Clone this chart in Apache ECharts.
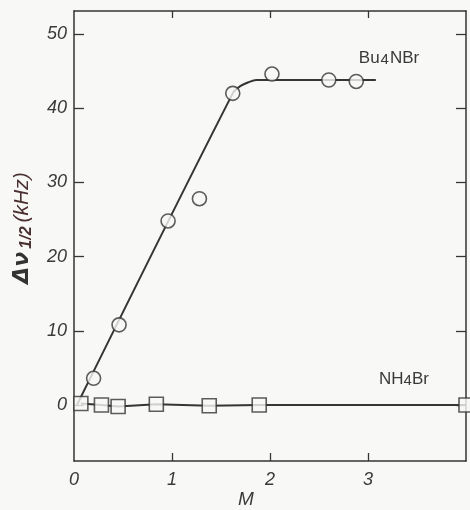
<!DOCTYPE html>
<html><head><meta charset="utf-8">
<script src="https://cdn.jsdelivr.net/npm/echarts@6/dist/echarts.min.js"></script>
<style>html,body{margin:0;padding:0;background:#f8f8f6;}#c{width:470px;height:510px;}</style>
</head><body><div id="c"></div>
<script>
// Data
const xTicks = [0, 1, 2, 3];
const xTickMarks = [1, 2, 3];
const yTicks = [0, 10, 20, 30, 40, 50];
const bu4nbrPoints = [[0.2, 3.6], [0.46, 10.8], [0.96, 24.8], [1.28, 27.8], [1.62, 42.0], [2.02, 44.6], [2.6, 43.8], [2.88, 43.6]];
const bu4nbrCurve = [[0.03, 0], [1.62, 42.0], [1.70, 43.0], [1.78, 43.5], [1.86, 43.8], [3.08, 43.8]];
const nh4brPoints = [[0.07, 0.2], [0.28, 0.0], [0.45, -0.2], [0.84, 0.1], [1.38, -0.1], [1.89, 0.0], [4.0, 0.0]];
const nh4brCurve = [[0.07, 0.2], [0.28, 0.0], [0.45, -0.2], [0.84, 0.1], [1.38, -0.1], [1.89, 0.0], [4.0, 0.0]];

const ink = '#353535';
const bg = '#f8f8f6';
const fontFam = 'Liberation Sans';
const chart = echarts.init(document.getElementById('c'));
const axisLine = {show: true, onZero: false, lineStyle: {color: ink, width: 1.5}};
const tickStyle = {lineStyle: {color: ink, width: 1.3}};
const labelStyle = {color: '#3a3a3a', fontSize: 18, fontStyle: 'italic', fontFamily: fontFam};
chart.setOption({
  backgroundColor: bg,
  animation: false,
  grid: {left: 74, top: 11, right: 4, bottom: 49},
  xAxis: [
    {type: 'value', min: 0, max: 4, position: 'bottom',
     axisLine: axisLine, splitLine: {show: false},
     axisTick: Object.assign({show: true, inside: true, length: 8, customValues: xTickMarks}, tickStyle),
     axisLabel: Object.assign({show: true, customValues: xTicks, margin: 10}, labelStyle)},
    {type: 'value', min: 0, max: 4, position: 'top',
     axisLine: axisLine, splitLine: {show: false},
     axisTick: Object.assign({show: true, inside: true, length: 7, customValues: xTickMarks}, tickStyle),
     axisLabel: {show: false}}
  ],
  yAxis: [
    {type: 'value', min: -7.55, max: 53.1, position: 'left',
     axisLine: axisLine, splitLine: {show: false},
     axisTick: Object.assign({show: true, inside: true, length: 10, customValues: yTicks}, tickStyle),
     axisLabel: Object.assign({show: true, customValues: yTicks, margin: 7}, labelStyle)},
    {type: 'value', min: -7.55, max: 53.1, position: 'right',
     axisLine: axisLine, splitLine: {show: false},
     axisTick: Object.assign({show: true, inside: true, length: 10, customValues: yTicks}, tickStyle),
     axisLabel: {show: false}}
  ],
  graphic: [
    {type: 'text', x: 22, y: 228, rotation: Math.PI / 2,
     style: {text: '{a|Δν}{b|1/2}{c|(kHz)}', align: 'center', verticalAlign: 'middle',
       rich: {
         a: {fontSize: 22, fontWeight: 'bold', fontStyle: 'italic', fill: '#333', fontFamily: 'DejaVu Sans'},
         b: {fontSize: 16, fontWeight: 'bold', fontStyle: 'italic', fill: '#4a3030', fontFamily: fontFam, padding: [10, 4, 0, 3]},
         c: {fontSize: 21, fontStyle: 'italic', fill: '#4a3030', fontFamily: fontFam}
       }}},
    {type: 'text', x: 246, y: 500,
     style: {text: 'M', align: 'center', verticalAlign: 'middle', fontSize: 19, fontStyle: 'italic', fill: '#3a3a3a', fontFamily: fontFam}},
    {type: 'text', x: 389, y: 58,
     style: {text: 'Bu{s|4}NBr', align: 'center', verticalAlign: 'middle', fontSize: 17, fill: '#3a3a3a', fontFamily: fontFam,
       rich: {s: {fontSize: 15, fill: '#3a3a3a', fontFamily: fontFam, padding: [4, 1, 0, 1]}}}},
    {type: 'text', x: 404, y: 379,
     style: {text: 'NH{s|4}Br', align: 'center', verticalAlign: 'middle', fontSize: 17, fill: '#3a3a3a', fontFamily: fontFam,
       rich: {s: {fontSize: 15, fill: '#3a3a3a', fontFamily: fontFam, padding: [4, 0, 0, 0]}}}}
  ],
  series: [
    {type: 'line', data: bu4nbrCurve, showSymbol: false, symbol: 'none', smooth: 0.3,
     lineStyle: {color: ink, width: 2}, z: 2},
    {type: 'line', data: nh4brCurve, showSymbol: false, symbol: 'none',
     lineStyle: {color: ink, width: 2}, z: 2},
    {type: 'scatter', data: bu4nbrPoints, symbol: 'circle', symbolSize: 14,
     itemStyle: {color: bg, borderColor: ink, borderWidth: 1.6}, z: 3},
    {type: 'scatter', data: nh4brPoints, symbol: 'rect', symbolSize: 14, clip: false,
     itemStyle: {color: bg, borderColor: ink, borderWidth: 1.6}, z: 3}
  ]
});
</script></body></html>
